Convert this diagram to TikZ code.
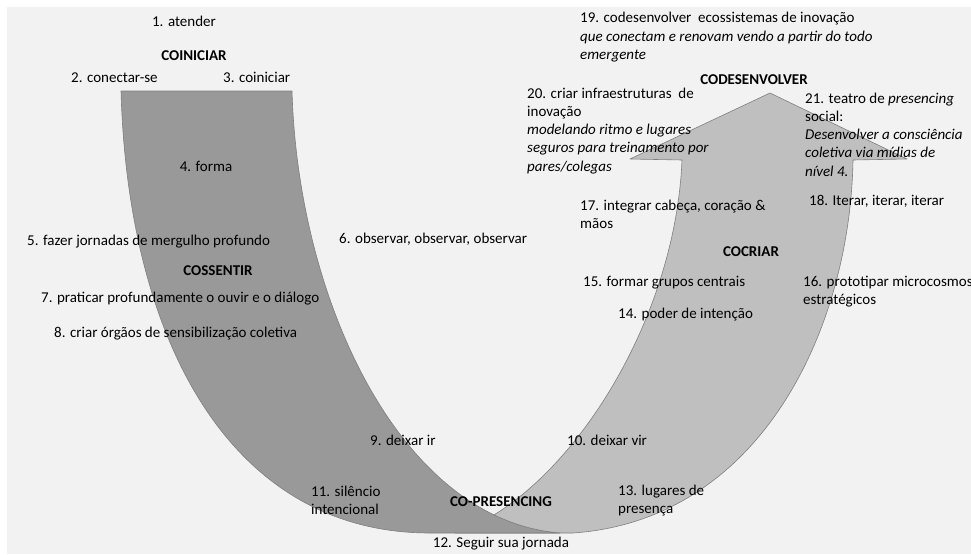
\documentclass[tikz,border=0pt]{standalone}
\usepackage{fontspec}
\setmainfont{Carlito}
\definecolor{bgcol}{HTML}{F2F2F2}
\definecolor{darkfill}{HTML}{999999}
\definecolor{lightfill}{HTML}{BFBFBF}
\definecolor{edgecol}{HTML}{7F7F7F}
\newcommand{\linesof}[1]{\vtop{\halign{##\hfil\cr#1\crcr}}}
\tikzset{
  lbl/.style={inner sep=0pt, font=\fontsize{15}{18.3}\selectfont, text=black},
  ttl/.style={inner sep=0pt, font=\fontsize{15}{18.3}\selectfont\bfseries, text=black},
  darkarm/.style={fill=darkfill, draw=edgecol, line width=0.6pt, line join=round},
  lightarm/.style={fill=lightfill, draw=edgecol, line width=0.6pt, line join=round}
}
\begin{document}
\begin{tikzpicture}[x=1pt,y=-1pt]
\useasboundingbox (0,0) rectangle (971,554);
\fill[white] (0,0) rectangle (971,554);
\fill[bgcol] (7,7) rectangle (971,554);
% light rising arm with arrow head
\draw[lightarm] (455,533) .. controls (560,500) and (675,330) .. (682,160)
  -- (630,159) -- (770,93) -- (907,159) -- (853,160)
  .. controls (850,330) and (760,520) .. (573,533) -- cycle;
% dark descending arm
\draw[darkarm] (121,91) -- (292,91) .. controls (298,300) and (400,520) .. (560,533)
  -- (430,533) .. controls (230,533) and (128,340) .. (121,91) -- cycle;
% texts
\node[lbl, anchor=base] (t1) at (184,27) {1. atender};
\node[ttl, anchor=base] (coin) at (194,60) {COINICIAR};
\node[lbl, anchor=base west] (t2) at (71,82) {2. conectar-se};
\node[lbl, anchor=base west] (t3) at (223,82) {3. coiniciar};
\node[lbl, anchor=base] (t4) at (206,171) {4. forma};
\node[lbl, anchor=base west] (t5) at (27,245) {5. fazer jornadas de mergulho profundo};
\node[lbl, anchor=base west] (t6) at (339,243) {6. observar, observar, observar};
\node[ttl, anchor=base] (cos) at (218,275) {COSSENTIR};
\node[lbl, anchor=base west] (t7) at (41,302) {7. praticar profundamente o ouvir e o diálogo};
\node[lbl, anchor=base west] (t8) at (54,337) {8. criar órgãos de sensibilização coletiva};
\node[lbl, anchor=base west] (t9) at (370,445) {9. deixar ir};
\node[lbl, anchor=base west] (t10) at (567,445) {10. deixar vir};
\node[lbl, anchor=base west] (t11) at (311,496) {\linesof{11. silêncio\cr intencional}};
\node[ttl, anchor=base] (copr) at (501,506) {CO-PRESENCING};
\node[lbl, anchor=base west] (t13) at (618,495) {\linesof{13. lugares de\cr presença}};
\node[lbl, anchor=base] (t12) at (501,547) {12. Seguir sua jornada};
\node[lbl, anchor=base west] (t14) at (618,318) {14. poder de intenção};
\node[lbl, anchor=base west] (t15) at (583,286) {15. formar grupos centrais};
\node[lbl, anchor=base west] (t16) at (803,286) {\linesof{16. prototipar microcosmos\cr estratégicos}};
\node[ttl, anchor=base] (cocr) at (751,256) {COCRIAR};
\node[lbl, anchor=base west] (t17) at (580,210) {\linesof{17. integrar cabeça, coração \&\cr mãos}};
\node[lbl, anchor=base west] (t18) at (809,205) {18. Iterar, iterar, iterar};
\node[lbl, anchor=base west] (t19) at (580,23) {\linesof{19. codesenvolver~ ecossistemas de inovação\cr \textit{que conectam e renovam vendo a partir do todo}\cr \textit{emergente}}};
\node[ttl, anchor=base] (codes) at (754,84) {CODESENVOLVER};
\node[lbl, anchor=base west] (t20) at (527,98) {\linesof{20. criar infraestruturas~ de\cr inovação\cr \textit{modelando ritmo e lugares}\cr \textit{seguros para treinamento por}\cr \textit{pares/colegas}}};
\node[lbl, anchor=base west] (t21) at (805,103) {\linesof{21. teatro de \textit{presencing}\cr social:\cr \textit{Desenvolver a consciência}\cr \textit{coletiva via mídias de}\cr \textit{nível 4.}}};
\end{tikzpicture}
\end{document}
